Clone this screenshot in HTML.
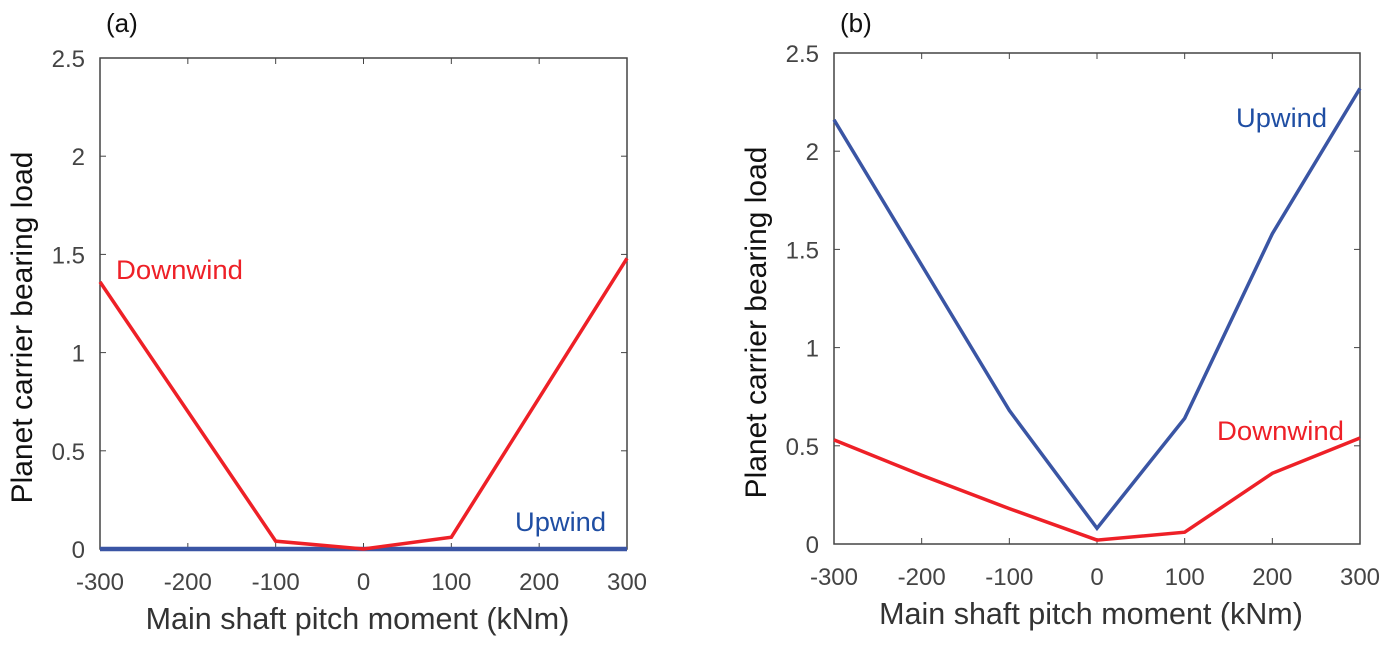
<!DOCTYPE html>
<html><head><meta charset="utf-8"><style>
body{margin:0;background:#fff;}
svg{display:block;font-family:"Liberation Sans","DejaVu Sans",sans-serif;}
</style></head><body>
<svg id="c" width="1390" height="646"></svg>
<script>
const xTicks=[-300,-200,-100,0,100,200,300];
const yTicks=[0,0.5,1,1.5,2,2.5];
const yTickLabels=["0","0.5","1","1.5","2","2.5"];
const xsA=[-300,-200,-100,0,100,200,300];
const downA=[1.36,0.70,0.04,0,0.06,0.77,1.48];
const upA=[0,0,0,0,0,0,0];
const xsB=[-300,-200,-100,0,100,200,300];
const upB=[2.16,1.42,0.68,0.08,0.64,1.58,2.32];
const downB=[0.53,0.35,0.18,0.02,0.06,0.36,0.54];
const NS="http://www.w3.org/2000/svg";
const svg=document.getElementById('c');
function mk(t,a,p){const e=document.createElementNS(NS,t);for(const k in a)e.setAttribute(k,a[k]);(p||svg).appendChild(e);return e;}
function panel(id,L,R,T,B,series,labels,letter){
  const g=mk('g',{});
  
  
  const sx=v=>L+(v+300)/600*(R-L), sy=v=>B-v/2.5*(B-T);
  const box=mk('rect',{x:L,y:T,width:R-L,height:B-T,fill:'none',stroke:'#444','stroke-width':1.5},g);
  
  
  xTicks.forEach(v=>{
    mk('line',{x1:sx(v),x2:sx(v),y1:B,y2:B-6,stroke:'#444'},g);
    mk('line',{x1:sx(v),x2:sx(v),y1:T,y2:T+6,stroke:'#444'},g);
    const t=mk('text',{x:sx(v),y:B+41,'text-anchor':'middle','font-size':24,fill:'#444'},g);
    t.textContent=v;
    
    
  });
  yTicks.forEach((v,i)=>{
    mk('line',{x1:L,x2:L+6,y1:sy(v),y2:sy(v),stroke:'#444'},g);
    mk('line',{x1:R,x2:R-6,y1:sy(v),y2:sy(v),stroke:'#444'},g);
    const t=mk('text',{x:L-15,y:sy(v)+9,'text-anchor':'end','font-size':24,fill:'#444'},g);
    t.textContent=yTickLabels[i];
    
    
  });
  series.forEach(s=>{
    const p=mk('polyline',{points:s.x.map((v,i)=>sx(v)+','+sy(s.y[i])).join(' '),fill:'none',stroke:s.c,'stroke-width':s.w||3.5,'stroke-linejoin':'miter'},g);
    
    
  });
  labels.forEach(l=>{
    const t=mk('text',{x:l.x,y:l.y,'font-size':27,fill:l.c,textLength:l.w,lengthAdjust:'spacingAndGlyphs'},g);
    t.textContent=l.t;
    
    
  });
  const xl=mk('text',{x:(L+R)/2-6,y:B+80,'text-anchor':'middle','font-size':30.5,fill:'#333'},g);
  xl.textContent='Main shaft pitch moment (kNm)';
  
  
  const yl=mk('text',{x:0,y:0,'text-anchor':'middle','font-size':30,fill:'#111',transform:`translate(${L-68},${(T+B)/2+24}) rotate(-90)`},g);
  yl.textContent='Planet carrier bearing load';
  
  
  const pl=mk('text',{x:L+6,y:32,'font-size':26,fill:'#111'},g);
  pl.textContent=letter;
  
  
}
panel('a',100,627,58,549,
 [{x:xsA,y:upA,c:'#3a55a4',n:'upwind-line',w:4.5},{x:xsA,y:downA,c:'#ee2027',n:'downwind-line'}],
 [{t:'Downwind',x:116,y:279,c:'#ee2027',n:'downwind-label',w:127},{t:'Upwind',x:515,y:531,c:'#1f4ea3',n:'upwind-label',w:91}],'(a)');
panel('b',834,1360,53,544,
 [{x:xsB,y:upB,c:'#3a55a4',n:'upwind-line'},{x:xsB,y:downB,c:'#ee2027',n:'downwind-line'}],
 [{t:'Upwind',x:1236,y:127,c:'#1f4ea3',n:'upwind-label',w:91},{t:'Downwind',x:1217,y:440,c:'#ee2027',n:'downwind-label',w:127}],'(b)');
</script>
</body></html>
